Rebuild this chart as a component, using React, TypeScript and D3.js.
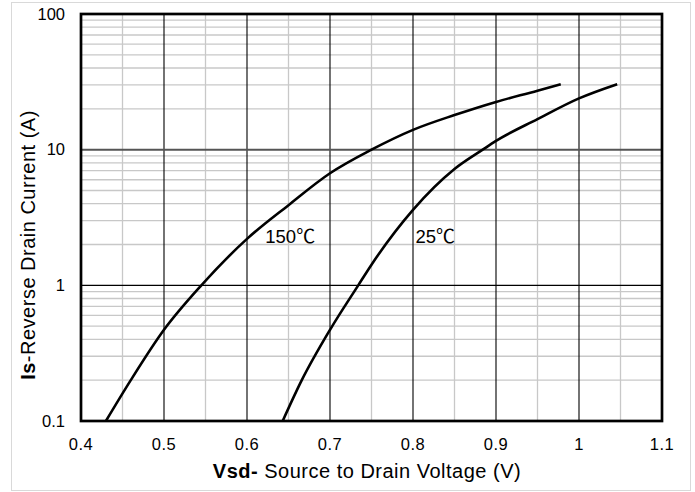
import React from "react";
import * as d3 from "d3";

const xTicks = [0.4, 0.5, 0.6, 0.7, 0.8, 0.9, 1.0, 1.1];
const xTickLabels = ["0.4", "0.5", "0.6", "0.7", "0.8", "0.9", "1", "1.1"];
const xMinor = [0.45, 0.55, 0.65, 0.75, 0.85, 0.95, 1.05];
const yTicks = [0.1, 1, 10, 100];
const yTickLabels = ["0.1", "1", "10", "100"];

const v150 = [0.43, 0.46, 0.5, 0.545, 0.6, 0.65, 0.7, 0.75, 0.8, 0.85, 0.9, 0.95, 0.978];
const i150 = [0.1, 0.2, 0.47, 1.0, 2.2, 3.9, 6.7, 10, 14, 18, 22.5, 27.2, 30.4];

const v25 = [0.643, 0.666, 0.7, 0.734, 0.75, 0.8, 0.85, 0.884, 0.9, 0.95, 1.0, 1.046];
const i25 = [0.1, 0.2, 0.47, 1.0, 1.42, 3.6, 7.2, 10, 11.6, 16.8, 23.9, 30.4];

const seriesLabels = [
  { num: "150", v: 0.622, i: 2.05 },
  { num: "25", v: 0.803, i: 2.05 },
];

export default function App() {
  const W = 695, H = 492;
  const L = 81, R = 662, T = 14, B = 421;
  const x = d3.scaleLinear().domain([0.4, 1.1]).range([L, R]);
  const y = d3.scaleLog().domain([0.1, 100]).range([B, T]);

  const minorY: number[] = [];
  for (const dec of [0.1, 1, 10]) for (let k = 2; k <= 9; k++) minorY.push(dec * k);

  const line = d3
    .line<[number, number]>()
    .x((d) => x(d[0]))
    .y((d) => y(d[1]))
    .curve(d3.curveMonotoneX);

  const p150 = line(v150.map((v, k) => [v, i150[k]] as [number, number])) || "";
  const p25 = line(v25.map((v, k) => [v, i25[k]] as [number, number])) || "";

  const font = "'Liberation Sans', Arial, sans-serif";
  const cjk = "'Noto Sans CJK SC', 'DejaVu Sans', sans-serif";

  return (
    <svg width={W} height={H} style={{ position: "absolute", left: 0, top: 0 }} fontFamily={font}>
      <rect x={0} y={0} width={W} height={H} fill="#fff" />
      <rect x={11.5} y={2.5} width={679} height={488} fill="#fff" stroke="#d9d9d9" strokeWidth={1} />
      {minorY.map((v) => (
        <line key={"my" + v} x1={L} x2={R} y1={y(v)} y2={y(v)} stroke="#c8c8c8" strokeWidth={1.3} />
      ))}
      {xMinor.map((v) => (
        <line key={"mx" + v} x1={x(v)} x2={x(v)} y1={T} y2={B} stroke="#c8c8c8" strokeWidth={1.3} />
      ))}
      {xTicks.slice(1, -1).map((v) => (
        <line key={"gx" + v} x1={x(v)} x2={x(v)} y1={T} y2={B} stroke="#000" strokeWidth={1.1} />
      ))}
      <line x1={L} x2={R} y1={y(1)} y2={y(1)} stroke="#000" strokeWidth={1.1} />
      <line x1={L} x2={R} y1={y(10)} y2={y(10)} stroke="#555" strokeWidth={2} />
      <rect x={L} y={T} width={R - L} height={B - T} fill="none" stroke="#000" strokeWidth={2.7} />
      <path d={p150} fill="none" stroke="#000" strokeWidth={2.6} strokeLinejoin="round" />
      <path d={p25} fill="none" stroke="#000" strokeWidth={2.6} strokeLinejoin="round" />
      {seriesLabels.map((s) => (
        <text key={s.num} x={x(s.v)} y={y(s.i)} fontSize={18.5} fill="#000">
          {s.num}
          <tspan fontFamily={cjk} fontSize={19}>℃</tspan>
        </text>
      ))}
      {yTicks.map((v, k) => (
        <text key={"yt" + v} x={65} y={y(v)} dy="0.35em" textAnchor="end" fontSize={16.5} fill="#000">
          {yTickLabels[k]}
        </text>
      ))}
      {xTicks.map((v, k) => (
        <text key={"xt" + v} x={x(v)} y={450} textAnchor="middle" fontSize={16.5} letterSpacing={0.5} fill="#000">
          {xTickLabels[k]}
        </text>
      ))}
      <text x={367} y={478} textAnchor="middle" fontSize={20} letterSpacing={0.5} fill="#000">
        <tspan fontWeight="bold">Vsd-</tspan>
        <tspan> Source to Drain Voltage (V)</tspan>
      </text>
      <text
        transform={`translate(35,245) rotate(-90)`}
        textAnchor="middle"
        fontSize={20}
        letterSpacing={0.5}
        fill="#000"
      >
        <tspan fontWeight="bold">Is</tspan>
        <tspan>-Reverse  Drain Current (A)</tspan>
      </text>
    </svg>
  );
}
